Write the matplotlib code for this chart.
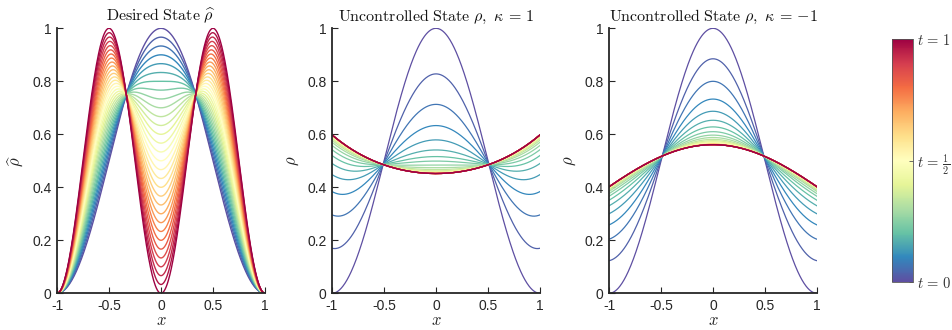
import numpy as np
import matplotlib.pyplot as plt
from matplotlib import colors, colorbar

plt.rcParams["mathtext.fontset"] = "cm"
plt.rcParams["font.family"] = ["Liberation Sans", "DejaVu Sans"]

# snapshots t = 0, 1/30, ..., 1
n_steps = 30
t_levels = np.arange(n_steps + 1) / n_steps

# uncontrolled runs: final profile at x=0 and at x=+-1
kappa_vals = [1, -1]
rho_inf_mid = [0.452, 0.561]
rho_inf_edge = [0.598, 0.402]

# uncontrolled state at x=0 and at x=+-1 for every snapshot
rho_mid_k1 = [1.000, 0.828, 0.713, 0.633, 0.579, 0.541, 0.516, 0.499, 0.484, 0.474,
              0.467, 0.462, 0.459, 0.457, 0.455, 0.454, 0.454, 0.453, 0.453, 0.453,
              0.452, 0.452, 0.452, 0.452, 0.452, 0.452, 0.452, 0.452, 0.452, 0.452, 0.452]
rho_edge_k1 = [0.000, 0.170, 0.296, 0.384, 0.448, 0.490, 0.520, 0.542, 0.558, 0.570,
               0.578, 0.584, 0.588, 0.591, 0.593, 0.595, 0.596, 0.596, 0.597, 0.597,
               0.598, 0.598, 0.598, 0.598, 0.598, 0.598, 0.598, 0.598, 0.598, 0.598, 0.598]
rho_mid_km1 = [1.000, 0.885, 0.800, 0.733, 0.687, 0.653, 0.628, 0.610, 0.597, 0.588,
               0.581, 0.576, 0.572, 0.569, 0.567, 0.565, 0.564, 0.563, 0.563, 0.562,
               0.562, 0.562, 0.561, 0.561, 0.561, 0.561, 0.561, 0.561, 0.561, 0.561, 0.561]
rho_edge_km1 = [0.000, 0.123, 0.204, 0.258, 0.300, 0.330, 0.351, 0.366, 0.376, 0.384,
                0.389, 0.393, 0.396, 0.398, 0.399, 0.400, 0.400, 0.401, 0.401, 0.402,
                0.402, 0.402, 0.402, 0.402, 0.402, 0.402, 0.402, 0.402, 0.402, 0.402, 0.402]
rho_mid = [rho_mid_k1, rho_mid_km1]
rho_edge = [rho_edge_k1, rho_edge_km1]

x_ticks = [-1, -0.5, 0, 0.5, 1]
x_ticklabels = ["-1", "-0.5", "0", "0.5", "1"]
y_ticks = [0, 0.2, 0.4, 0.6, 0.8, 1]
y_ticklabels = ["0", "0.2", "0.4", "0.6", "0.8", "1"]
cbar_labels = [r"$t\,=\,0$", r"$t\,=\,\frac{1}{2}$", r"$t\,=\,1$"]

cmap = plt.get_cmap("Spectral_r")
axis_col = "#262626"
xs = np.linspace(-1, 1, 401)
rho0 = np.cos(np.pi * xs / 2) ** 2


def style_axis(ax, ylabel, title):
    ax.set_xlim(-1, 1)
    ax.set_ylim(0, 1)
    ax.set_xticks(x_ticks)
    ax.set_xticklabels(x_ticklabels)
    ax.set_yticks(y_ticks)
    ax.set_yticklabels(y_ticklabels)
    for s in ["top", "right"]:
        ax.spines[s].set_visible(False)
    for s in ["left", "bottom"]:
        ax.spines[s].set_color(axis_col)
        ax.spines[s].set_linewidth(1.3)
    ax.tick_params(direction="in", length=4, width=0.8, color=axis_col,
                   labelcolor=axis_col, labelsize=10, pad=4)
    ax.set_xlabel(r"$x$", fontsize=12, color=axis_col)
    ax.xaxis.label.set_va("bottom")
    ax.xaxis.set_label_coords(0.5, -0.132)
    ax.set_ylabel(ylabel, fontsize=12, color=axis_col)
    ax.yaxis.set_label_coords(-0.15, 0.5)
    ax.set_title(title, fontsize=11.5, color="#111111", pad=5)


fig = plt.figure(figsize=(9.52, 3.3), dpi=100)
lefts = [57 / 952, 332 / 952, 609 / 952]
axes = [fig.add_axes([l, 0.1112, 208 / 952, 0.803]) for l in lefts]

# desired state: blend from cos^2(pi x/2) to sin^2(pi x)
ax = axes[0]
rho_target = np.sin(np.pi * xs) ** 2
for t in t_levels:
    ax.plot(xs, (1 - t) * rho0 + t * rho_target, color=cmap(t), lw=1.0)
style_axis(ax, r"$\widehat{\rho}$", r"$\mathrm{Desired\ State}\ \widehat{\rho}$")

# uncontrolled states relaxing towards their steady profile
for i, kappa in enumerate(kappa_vals):
    ax = axes[i + 1]
    m_inf, e_inf = rho_inf_mid[i], rho_inf_edge[i]
    rho_inf = m_inf * (e_inf / m_inf) ** (xs ** 2)
    for k, t in enumerate(t_levels):
        d_mid = (rho_mid[i][k] - m_inf) / (1 - m_inf)
        d_edge = (e_inf - rho_edge[i][k]) / e_inf
        w = d_mid * np.cos(np.pi * xs / 2) ** 2 + d_edge * np.sin(np.pi * xs / 2) ** 2
        ax.plot(xs, rho_inf + (rho0 - rho_inf) * w, color=cmap(t), lw=0.9)
    kap = "1" if kappa > 0 else "{-1}"
    style_axis(ax, r"$\rho$",
               r"$\mathrm{Uncontrolled\ State}\ \rho,\ \kappa\,=\,%s$" % kap)

cax = fig.add_axes([892 / 952, 48 / 330, 21 / 952, 243 / 330])
cb = colorbar.ColorbarBase(cax, cmap=cmap, norm=colors.Normalize(0, 1),
                           ticks=[0, 0.5, 1])
cb.set_ticklabels(cbar_labels)
cb.outline.set_edgecolor("#555555")
cb.outline.set_linewidth(0.6)
cax.tick_params(direction="in", length=3, width=0.6, color="#555555",
                labelcolor="#333333", labelsize=10.5, pad=3)

fig.savefig("out.png", dpi=100)
